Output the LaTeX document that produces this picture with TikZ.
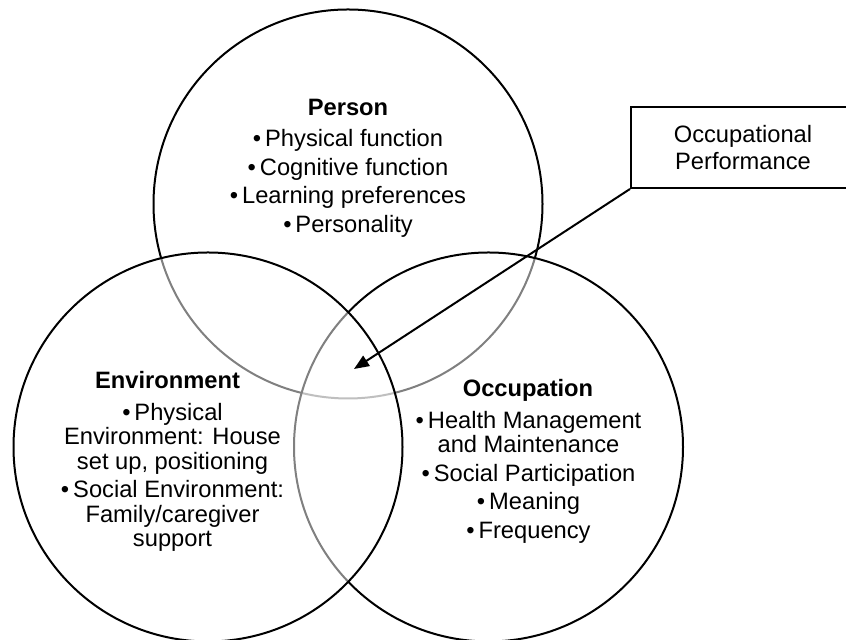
\documentclass[tikz,border=0pt]{standalone}
\usepackage{fontspec}
\setmainfont{Liberation Sans}
\usetikzlibrary{arrows.meta}

\begin{document}
\begin{tikzpicture}[x=0.5pt, y=0.5pt,
    ring/.style={draw=black, line width=1pt, fill=white, fill opacity=0.5},
    heading/.style={font=\fontsize{11.85pt}{12.25pt}\selectfont\bfseries},
    items/.style={font=\fontsize{11.85pt}{12.25pt}\selectfont, align=center, inner sep=0pt}]

    % Fix the page size and cut off the box that runs past the right edge
    \useasboundingbox (0,0) rectangle (846,640);
    \clip (0,0) rectangle (846,640);

    % Centres of the three circles
    % P is the top circle
    \coordinate (P) at (348, 436);
    % O is the bottom-right circle
    \coordinate (O) at (488.5, 193);
    % E is the bottom-left circle
    \coordinate (E) at (208, 193);

    % The point in the middle where all three overlap
    \coordinate (core) at (354, 271);

    % Draw the circles, the half-clear fill greys out the lines underneath
    \draw[ring] (P) circle[radius=194.5];
    \draw[ring] (O) circle[radius=194.5];
    \draw[ring] (E) circle[radius=194.5];

    % Text of the top circle
    \node[heading] (personTitle) at (348, 533) {Person};
    \node[items] (personList) at (348, 456.5)
        {•\,Physical function\\[2pt]
         •\,Cognitive function\\[2pt]
         •\,Learning preferences\\[2pt]
         •\,Personality};

    % Text of the bottom-left circle
    \node[heading] (envTitle) at (167.5, 260) {Environment};
    \node[items] (envList) at (172.5, 162.5)
        {•\,Physical\\
         Environment: House\\
         set up, positioning\\[2pt]
         •\,Social Environment:\\
         Family/caregiver\\
         support};

    % Text of the bottom-right circle
    \node[heading] (occTitle) at (528, 250) {Occupation};
    \node[items] (occList) at (528.5, 163)
        {•\,Health Management\\
         and Maintenance\\[2pt]
         •\,Social Participation\\[2pt]
         •\,Meaning\\[2pt]
         •\,Frequency};

    % Call-out box on the right
    \node[draw, line width=1pt, fill=white, minimum width=112pt, minimum height=40.5pt,
          align=center, font=\fontsize{11.85pt}{13.5pt}\selectfont] (perf) at (743, 492.5)
        {Occupational\\Performance};

    % Arrow from the box down into the middle
    \draw[line width=1pt, -{Triangle[length=7.5pt, width=6pt]}] (perf.south west) -- (core);

\end{tikzpicture}
\end{document}
